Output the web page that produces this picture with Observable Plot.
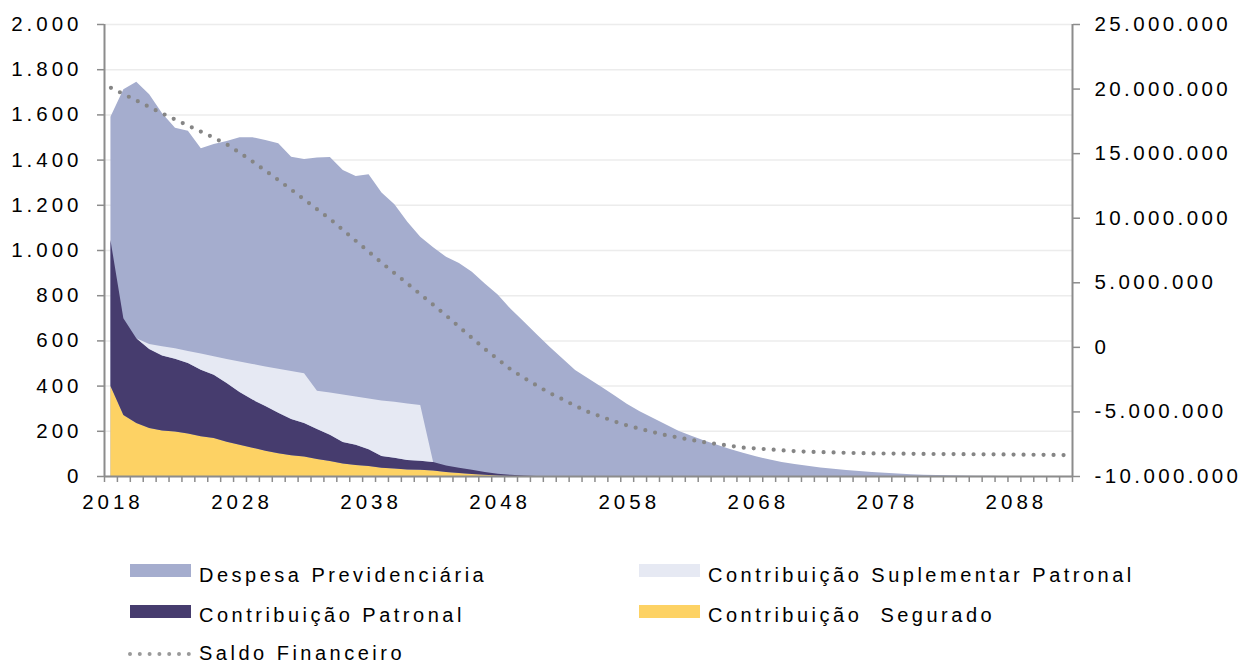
<!DOCTYPE html>
<html>
<head>
<meta charset="utf-8">
<script src="https://cdn.jsdelivr.net/npm/d3@7"></script>
<script src="https://cdn.jsdelivr.net/npm/@observablehq/plot@0.6"></script>
<style>
  body { margin: 0; background: #fff; font-family: "Liberation Sans", Arial, sans-serif; }
  #chart svg text { letter-spacing: 4px; }
  #chart svg g[text-anchor="start"] text { letter-spacing: 3.4px; }
  #legend { position: relative; width: 1246px; height: 134px; font-size: 20px; letter-spacing: 3.5px; color: #000; }
  .sw { position: absolute; width: 61px; height: 13px; }
  .lt { position: absolute; line-height: 24px; white-space: pre; }
</style>
</head>
<body>
<div id="chart"></div>
<div id="legend"></div>
<script>
const years = d3.range(2018, 2093);

const despesa = [1590,1711,1745,1689,1605,1541,1528,1450,1469,1482,1499,1499,1487,1472,1413,1403,1409,1412,1354,1327,1335,1254,1202,1125,1059,1012,970,943,904,852,803,740,685,628,573,521,469,432,396,358,320,287,258,229,200,178,157,138,120,103,87,74,62,53,45,38,32,26,22,18,14,11,8,6,4,3,2,1,1,0,0,0,0,0,0];

const suplementar = [0,0,0,22,41,46,53,72,82,107,135,158,175,195,213,220,169,187,211,214,225,245,247,250,247,0,0,0,0,0,0,0,0,0,0,0,0,0,0,0,0,0,0,0,0,0,0,0,0,0,0,0,0,0,0,0,0,0,0,0,0,0,0,0,0,0,0,0,0,0,0,0,0,0,0];

const patronal = [646,428,374,350,332,322,312,294,280,259,234,213,198,179,160,149,133,117,95,89,74,53,48,42,39,38,29,24,19,13,8,5,2,0,0,0,0,0,0,0,0,0,0,0,0,0,0,0,0,0,0,0,0,0,0,0,0,0,0,0,0,0,0,0,0,0,0,0,0,0,0,0,0,0,0];

const segurado = [398,270,235,212,201,197,188,176,168,152,138,125,112,101,92,86,75,66,55,49,44,36,33,29,28,24,18,13,9,5,2,0,0,0,0,0,0,0,0,0,0,0,0,0,0,0,0,0,0,0,0,0,0,0,0,0,0,0,0,0,0,0,0,0,0,0,0,0,0,0,0,0,0,0,0];

// Saldo Financeiro, em milhões
const saldoMilhoes = [20.10,19.60,19.10,18.60,18.10,17.63,17.16,16.69,16.22,15.70,15.05,14.37,13.66,12.94,12.19,11.43,10.67,9.92,9.07,8.22,7.38,6.53,5.72,4.91,4.09,3.27,2.44,1.57,0.70,-0.15,-0.94,-1.73,-2.36,-2.96,-3.54,-4.03,-4.54,-5.01,-5.37,-5.73,-6.05,-6.31,-6.56,-6.80,-6.99,-7.17,-7.35,-7.49,-7.63,-7.77,-7.83,-7.90,-7.97,-8.04,-8.09,-8.11,-8.14,-8.17,-8.19,-8.21,-8.22,-8.23,-8.24,-8.25,-8.26,-8.26,-8.27,-8.28,-8.28,-8.29,-8.30,-8.31,-8.32,-8.33,-8.34];

const leftTicks = [0,200,400,600,800,1000,1200,1400,1600,1800,2000];
const rightTicks = [-10000000,-5000000,0,5000000,10000000,15000000,20000000,25000000];
const xLabelYears = [2018,2028,2038,2048,2058,2068,2078,2088];

const seriesNames = ["Contribuição Segurado","Contribuição Patronal","Contribuição Suplementar Patronal"];
const seriesColors = ["#FDD264","#463C6E","#E6E9F3"];
const despesaColor = "#A5ADCE";
const saldoColor = "#858585";
const axisColor = "#8c8c8c";

// left scale 0..2000 <-> right scale -10M..25M
const rMin = -10000000, rMax = 25000000, lMax = 2000;
const toLeft = r => (r - rMin) / (rMax - rMin) * lMax;
const toRight = l => rMin + l / lMax * (rMax - rMin);

const br = d3.formatLocale({decimal: ",", thousands: ".", grouping: [3], currency: ["R$", ""], minus: "-"});
const fmt = br.format(",d");

const rows = years.map((year, i) => ({year, despesa: despesa[i], saldo: saldoMilhoes[i] * 1e6}));
const stackRows = [];
years.forEach((year, i) => {
  stackRows.push({year, series: seriesNames[0], value: segurado[i]});
  stackRows.push({year, series: seriesNames[1], value: patronal[i]});
  stackRows.push({year, series: seriesNames[2], value: suplementar[i]});
});

const chart = Plot.plot({
  width: 1246,
  height: 530,
  marginLeft: 104,
  marginRight: 174,
  marginTop: 24,
  marginBottom: 54,
  style: {fontFamily: "'Liberation Sans', Arial, sans-serif", fontSize: "20.5px", color: "#000", background: "#fff"},
  x: {type: "linear", domain: [2017.5, 2092.5], label: null},
  y: {domain: [0, 2000], label: null},
  color: {domain: seriesNames, range: seriesColors},
  marks: [
    Plot.gridY(leftTicks, {stroke: "#ececec", strokeOpacity: 1, strokeWidth: 1.5}),
    Plot.areaY(rows, {x: "year", y: "despesa", fill: despesaColor}),
    Plot.areaY(stackRows, Plot.stackY({x: "year", y: "value", z: "series", fill: "series", order: seriesNames})),
    Plot.line(rows, {x: "year", y: d => toLeft(d.saldo), stroke: saldoColor, strokeWidth: 4.2, strokeDasharray: "0 10", strokeLinecap: "round"}),
    Plot.ruleX([2017.5], {stroke: axisColor, strokeWidth: 2}),
    Plot.ruleX([2092.5], {stroke: axisColor, strokeWidth: 2}),
    Plot.ruleY([0], {stroke: axisColor, strokeWidth: 2}),
    Plot.axisY(leftTicks, {anchor: "left", tickSize: 7, tickPadding: 15, stroke: axisColor, strokeWidth: 1.5, tickFormat: fmt}),
    Plot.axisY(rightTicks.map(toLeft), {anchor: "right", tickSize: 7, tickPadding: 15, stroke: axisColor, strokeWidth: 1.5, tickFormat: d => fmt(Math.round(toRight(d)))}),
    Plot.axisX(d3.range(2017.5, 2093, 1), {anchor: "bottom", tickSize: 6, stroke: axisColor, strokeWidth: 1.5, tickFormat: () => ""}),
    Plot.axisX(xLabelYears, {anchor: "bottom", tickSize: 0, tickPadding: 18, dx: 2, tickFormat: d => String(d)})
  ]
});
document.getElementById("chart").appendChild(chart);

// Legend (HTML below the SVG)
const legend = document.getElementById("legend");
const items = [
  {label: "Despesa Previdenciária", color: despesaColor, x: 130, top: 34, textTop: 33},
  {label: "Contribuição Suplementar Patronal", color: seriesColors[2], x: 639, top: 34, textTop: 33},
  {label: "Contribuição Patronal", color: seriesColors[1], x: 130, top: 75, textTop: 72.5},
  {label: "Contribuição  Segurado", color: seriesColors[0], x: 639, top: 75, textTop: 72.5},
  {label: "Saldo Financeiro", dotted: true, x: 130, top: 124, textTop: 110.5}
];
items.forEach(it => {
  if (it.dotted) {
    const s = document.createElementNS("http://www.w3.org/2000/svg", "svg");
    s.setAttribute("width", 70); s.setAttribute("height", 10);
    s.style.position = "absolute"; s.style.left = (it.x - 2) + "px"; s.style.top = (it.top - 5) + "px";
    s.innerHTML = `<line x1="2" y1="5" x2="62" y2="5" stroke="#9a9a9a" stroke-width="4" stroke-dasharray="0 9.8" stroke-linecap="round"/>`;
    legend.appendChild(s);
  } else {
    const sw = document.createElement("div");
    sw.className = "sw";
    sw.style.left = it.x + "px"; sw.style.top = it.top + "px"; sw.style.background = it.color;
    legend.appendChild(sw);
  }
  const t = document.createElement("div");
  t.className = "lt";
  t.style.left = (it.x + 69) + "px"; t.style.top = it.textTop + "px";
  t.textContent = it.label;
  legend.appendChild(t);
});
</script>
</body>
</html>
